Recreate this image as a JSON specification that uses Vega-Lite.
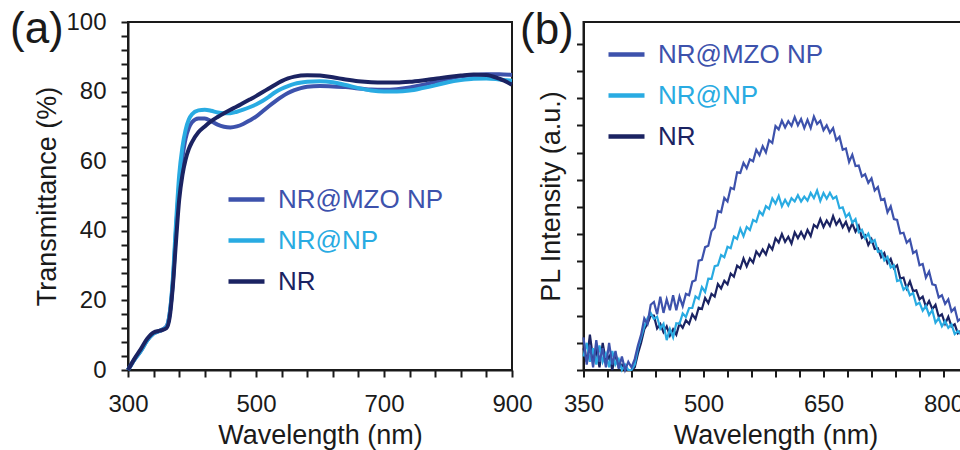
{
"$schema": "https://vega.github.io/schema/vega-lite/v6.json",
"background": "white",
"autosize": {"type": "none"},
"padding": {"left": 128, "top": 22, "right": 832, "bottom": 428},
"config": {
 "font": "Liberation Sans",
 "view": {"stroke": "#1a1a1a", "strokeWidth": 2},
 "axis": {"grid": false, "domainColor": "#1a1a1a", "domainWidth": 2, "tickColor": "#1a1a1a", "tickWidth": 2, "tickSize": 7, "labelFont": "Liberation Sans", "labelFontSize": 24, "labelColor": "#1a1a1a", "labelOverlap": false, "labelFlush": false, "titleFont": "Liberation Sans", "titleFontSize": 27, "titleFontWeight": "normal", "titleColor": "#1a1a1a"},
 "legend": {"symbolType": "stroke", "symbolSize": 1296, "symbolStrokeWidth": 4.5, "labelFont": "Liberation Sans", "labelFontSize": 26, "labelOffset": 11, "labelLimit": 0, "rowPadding": 7, "padding": 0},
 "title": {"font": "Liberation Sans", "fontSize": 44, "fontWeight": "normal", "color": "#1a1a1a", "anchor": "start", "frame": "group", "offset": 0, "baseline": "alphabetic"}
},
"datasets": {
 "trans": [
  {"w":300,"s":"NR@MZO NP","v":0},{"w":310,"s":"NR@MZO NP","v":3},{"w":320,"s":"NR@MZO NP","v":5.5},{"w":330,"s":"NR@MZO NP","v":8.5},{"w":340,"s":"NR@MZO NP","v":10.5},{"w":350,"s":"NR@MZO NP","v":11.3},{"w":360,"s":"NR@MZO NP","v":12.5},{"w":365,"s":"NR@MZO NP","v":16},{"w":370,"s":"NR@MZO NP","v":25},{"w":375,"s":"NR@MZO NP","v":40},{"w":380,"s":"NR@MZO NP","v":53},{"w":385,"s":"NR@MZO NP","v":61},{"w":390,"s":"NR@MZO NP","v":66.5},{"w":395,"s":"NR@MZO NP","v":69.5},{"w":400,"s":"NR@MZO NP","v":71.2},{"w":410,"s":"NR@MZO NP","v":72.3},{"w":420,"s":"NR@MZO NP","v":72.3},{"w":430,"s":"NR@MZO NP","v":71.5},{"w":440,"s":"NR@MZO NP","v":70.5},{"w":450,"s":"NR@MZO NP","v":69.9},{"w":460,"s":"NR@MZO NP","v":69.7},{"w":470,"s":"NR@MZO NP","v":70},{"w":480,"s":"NR@MZO NP","v":70.7},{"w":490,"s":"NR@MZO NP","v":71.7},{"w":500,"s":"NR@MZO NP","v":72.8},{"w":510,"s":"NR@MZO NP","v":74.3},{"w":520,"s":"NR@MZO NP","v":75.8},{"w":530,"s":"NR@MZO NP","v":77.2},{"w":540,"s":"NR@MZO NP","v":78.5},{"w":550,"s":"NR@MZO NP","v":79.6},{"w":560,"s":"NR@MZO NP","v":80.4},{"w":570,"s":"NR@MZO NP","v":81},{"w":580,"s":"NR@MZO NP","v":81.4},{"w":600,"s":"NR@MZO NP","v":81.6},{"w":620,"s":"NR@MZO NP","v":81.5},{"w":640,"s":"NR@MZO NP","v":81.3},{"w":660,"s":"NR@MZO NP","v":80.9},{"w":680,"s":"NR@MZO NP","v":80.6},{"w":700,"s":"NR@MZO NP","v":80.5},{"w":720,"s":"NR@MZO NP","v":80.7},{"w":740,"s":"NR@MZO NP","v":81.2},{"w":760,"s":"NR@MZO NP","v":81.9},{"w":780,"s":"NR@MZO NP","v":82.8},{"w":800,"s":"NR@MZO NP","v":83.7},{"w":820,"s":"NR@MZO NP","v":84.4},{"w":840,"s":"NR@MZO NP","v":84.8},{"w":860,"s":"NR@MZO NP","v":85},{"w":880,"s":"NR@MZO NP","v":85},{"w":900,"s":"NR@MZO NP","v":84.8},
  {"w":300,"s":"NR@NP","v":0},{"w":310,"s":"NR@NP","v":3},{"w":320,"s":"NR@NP","v":5.5},{"w":330,"s":"NR@NP","v":8.5},{"w":340,"s":"NR@NP","v":10.5},{"w":350,"s":"NR@NP","v":11.3},{"w":360,"s":"NR@NP","v":12.3},{"w":365,"s":"NR@NP","v":16},{"w":370,"s":"NR@NP","v":26},{"w":375,"s":"NR@NP","v":42},{"w":380,"s":"NR@NP","v":56},{"w":385,"s":"NR@NP","v":64},{"w":390,"s":"NR@NP","v":69},{"w":395,"s":"NR@NP","v":72},{"w":400,"s":"NR@NP","v":73.5},{"w":410,"s":"NR@NP","v":74.6},{"w":420,"s":"NR@NP","v":74.8},{"w":430,"s":"NR@NP","v":74.5},{"w":440,"s":"NR@NP","v":74},{"w":450,"s":"NR@NP","v":73.8},{"w":460,"s":"NR@NP","v":73.8},{"w":470,"s":"NR@NP","v":74.2},{"w":480,"s":"NR@NP","v":74.8},{"w":490,"s":"NR@NP","v":75.5},{"w":500,"s":"NR@NP","v":76.3},{"w":510,"s":"NR@NP","v":77.3},{"w":520,"s":"NR@NP","v":78.5},{"w":530,"s":"NR@NP","v":79.8},{"w":540,"s":"NR@NP","v":80.8},{"w":550,"s":"NR@NP","v":81.6},{"w":560,"s":"NR@NP","v":82.2},{"w":580,"s":"NR@NP","v":82.8},{"w":600,"s":"NR@NP","v":83},{"w":620,"s":"NR@NP","v":82.7},{"w":640,"s":"NR@NP","v":81.9},{"w":660,"s":"NR@NP","v":81},{"w":680,"s":"NR@NP","v":80.3},{"w":700,"s":"NR@NP","v":80},{"w":720,"s":"NR@NP","v":80},{"w":740,"s":"NR@NP","v":80.3},{"w":760,"s":"NR@NP","v":81},{"w":780,"s":"NR@NP","v":81.8},{"w":800,"s":"NR@NP","v":82.7},{"w":820,"s":"NR@NP","v":83.3},{"w":840,"s":"NR@NP","v":83.7},{"w":860,"s":"NR@NP","v":83.8},{"w":880,"s":"NR@NP","v":83.5},{"w":900,"s":"NR@NP","v":83.1},
  {"w":300,"s":"NR","v":0},{"w":310,"s":"NR","v":3.2},{"w":320,"s":"NR","v":6},{"w":330,"s":"NR","v":9},{"w":340,"s":"NR","v":10.8},{"w":350,"s":"NR","v":11.3},{"w":360,"s":"NR","v":12},{"w":365,"s":"NR","v":15},{"w":370,"s":"NR","v":24},{"w":375,"s":"NR","v":37},{"w":380,"s":"NR","v":49},{"w":385,"s":"NR","v":56},{"w":390,"s":"NR","v":60.5},{"w":395,"s":"NR","v":63.5},{"w":400,"s":"NR","v":65.5},{"w":410,"s":"NR","v":68.3},{"w":420,"s":"NR","v":70},{"w":430,"s":"NR","v":71.5},{"w":440,"s":"NR","v":72.7},{"w":450,"s":"NR","v":73.8},{"w":460,"s":"NR","v":74.8},{"w":470,"s":"NR","v":75.7},{"w":480,"s":"NR","v":76.7},{"w":490,"s":"NR","v":77.7},{"w":500,"s":"NR","v":78.7},{"w":510,"s":"NR","v":79.8},{"w":520,"s":"NR","v":80.9},{"w":530,"s":"NR","v":82},{"w":540,"s":"NR","v":83},{"w":550,"s":"NR","v":83.8},{"w":560,"s":"NR","v":84.3},{"w":580,"s":"NR","v":84.7},{"w":600,"s":"NR","v":84.6},{"w":620,"s":"NR","v":84.1},{"w":640,"s":"NR","v":83.5},{"w":660,"s":"NR","v":83},{"w":680,"s":"NR","v":82.7},{"w":700,"s":"NR","v":82.6},{"w":720,"s":"NR","v":82.6},{"w":740,"s":"NR","v":82.8},{"w":760,"s":"NR","v":83.2},{"w":780,"s":"NR","v":83.7},{"w":800,"s":"NR","v":84.2},{"w":820,"s":"NR","v":84.6},{"w":840,"s":"NR","v":84.9},{"w":860,"s":"NR","v":84.8},{"w":880,"s":"NR","v":83.7},{"w":900,"s":"NR","v":82}
 ],
 "pl": [
  {"w":350,"s":"NR","v":0.8},{"w":354,"s":"NR","v":0.3},{"w":358,"s":"NR","v":1.3},{"w":362,"s":"NR","v":0.4},{"w":366,"s":"NR","v":0.7},{"w":370,"s":"NR","v":0.1},{"w":374,"s":"NR","v":1.0},{"w":378,"s":"NR","v":0.3},{"w":382,"s":"NR","v":0.5},{"w":386,"s":"NR","v":0},{"w":390,"s":"NR","v":0.6},{"w":394,"s":"NR","v":0.1},{"w":398,"s":"NR","v":0.2},{"w":402,"s":"NR","v":0},{"w":406,"s":"NR","v":0},{"w":410,"s":"NR","v":0},{"w":414,"s":"NR","v":0.1},{"w":418,"s":"NR","v":0.6},{"w":422,"s":"NR","v":1.0},{"w":426,"s":"NR","v":1.5},{"w":430,"s":"NR","v":1.7},{"w":434,"s":"NR","v":2.0},{"w":438,"s":"NR","v":2.0},{"w":442,"s":"NR","v":1.53},{"w":446,"s":"NR","v":1.69},{"w":450,"s":"NR","v":1.39},{"w":454,"s":"NR","v":1.6},{"w":458,"s":"NR","v":1.26},{"w":462,"s":"NR","v":1.5},{"w":466,"s":"NR","v":1.3},{"w":470,"s":"NR","v":1.71},{"w":474,"s":"NR","v":1.55},{"w":478,"s":"NR","v":1.83},{"w":482,"s":"NR","v":1.7},{"w":486,"s":"NR","v":2.05},{"w":490,"s":"NR","v":1.88},{"w":494,"s":"NR","v":2.29},{"w":498,"s":"NR","v":2.24},{"w":502,"s":"NR","v":2.65},{"w":506,"s":"NR","v":2.46},{"w":510,"s":"NR","v":2.8},{"w":514,"s":"NR","v":2.7},{"w":518,"s":"NR","v":3.16},{"w":522,"s":"NR","v":3.0},{"w":526,"s":"NR","v":3.28},{"w":530,"s":"NR","v":3.15},{"w":534,"s":"NR","v":3.55},{"w":538,"s":"NR","v":3.43},{"w":542,"s":"NR","v":3.84},{"w":546,"s":"NR","v":3.74},{"w":550,"s":"NR","v":4.1},{"w":554,"s":"NR","v":3.81},{"w":558,"s":"NR","v":4.1},{"w":562,"s":"NR","v":3.95},{"w":566,"s":"NR","v":4.36},{"w":570,"s":"NR","v":4.2},{"w":574,"s":"NR","v":4.43},{"w":578,"s":"NR","v":4.25},{"w":582,"s":"NR","v":4.6},{"w":586,"s":"NR","v":4.43},{"w":590,"s":"NR","v":4.84},{"w":594,"s":"NR","v":4.69},{"w":598,"s":"NR","v":5.0},{"w":602,"s":"NR","v":4.71},{"w":606,"s":"NR","v":4.9},{"w":610,"s":"NR","v":4.65},{"w":614,"s":"NR","v":5.06},{"w":618,"s":"NR","v":4.85},{"w":622,"s":"NR","v":5.08},{"w":626,"s":"NR","v":4.85},{"w":630,"s":"NR","v":5.15},{"w":634,"s":"NR","v":4.93},{"w":638,"s":"NR","v":5.34},{"w":642,"s":"NR","v":5.24},{"w":646,"s":"NR","v":5.55},{"w":650,"s":"NR","v":5.26},{"w":654,"s":"NR","v":5.5},{"w":658,"s":"NR","v":5.3},{"w":662,"s":"NR","v":5.66},{"w":666,"s":"NR","v":5.35},{"w":670,"s":"NR","v":5.53},{"w":674,"s":"NR","v":5.25},{"w":678,"s":"NR","v":5.45},{"w":682,"s":"NR","v":5.13},{"w":686,"s":"NR","v":5.39},{"w":690,"s":"NR","v":5.09},{"w":694,"s":"NR","v":5.3},{"w":698,"s":"NR","v":4.86},{"w":702,"s":"NR","v":4.95},{"w":706,"s":"NR","v":4.6},{"w":710,"s":"NR","v":4.81},{"w":714,"s":"NR","v":4.45},{"w":718,"s":"NR","v":4.48},{"w":722,"s":"NR","v":4.15},{"w":726,"s":"NR","v":4.3},{"w":730,"s":"NR","v":3.93},{"w":734,"s":"NR","v":4.09},{"w":738,"s":"NR","v":3.74},{"w":742,"s":"NR","v":3.85},{"w":746,"s":"NR","v":3.36},{"w":750,"s":"NR","v":3.4},{"w":754,"s":"NR","v":3.0},{"w":758,"s":"NR","v":3.26},{"w":762,"s":"NR","v":2.9},{"w":766,"s":"NR","v":2.93},{"w":770,"s":"NR","v":2.6},{"w":774,"s":"NR","v":2.7},{"w":778,"s":"NR","v":2.33},{"w":782,"s":"NR","v":2.54},{"w":786,"s":"NR","v":2.24},{"w":790,"s":"NR","v":2.4},{"w":794,"s":"NR","v":1.96},{"w":798,"s":"NR","v":2.05},{"w":802,"s":"NR","v":1.7},{"w":806,"s":"NR","v":1.96},{"w":810,"s":"NR","v":1.6},{"w":814,"s":"NR","v":1.68},{"w":818,"s":"NR","v":1.35},{"w":822,"s":"NR","v":1.45},
  {"w":350,"s":"NR@NP","v":0.5},{"w":354,"s":"NR@NP","v":1.0},{"w":358,"s":"NR@NP","v":0.3},{"w":362,"s":"NR@NP","v":0.8},{"w":366,"s":"NR@NP","v":0.2},{"w":370,"s":"NR@NP","v":0.9},{"w":374,"s":"NR@NP","v":0.3},{"w":378,"s":"NR@NP","v":0.6},{"w":382,"s":"NR@NP","v":0.1},{"w":386,"s":"NR@NP","v":0.7},{"w":390,"s":"NR@NP","v":0.2},{"w":394,"s":"NR@NP","v":0.4},{"w":398,"s":"NR@NP","v":0},{"w":402,"s":"NR@NP","v":0.2},{"w":406,"s":"NR@NP","v":0},{"w":410,"s":"NR@NP","v":0},{"w":414,"s":"NR@NP","v":0.2},{"w":418,"s":"NR@NP","v":0.8},{"w":422,"s":"NR@NP","v":1.2},{"w":426,"s":"NR@NP","v":1.6},{"w":430,"s":"NR@NP","v":1.9},{"w":434,"s":"NR@NP","v":2.1},{"w":438,"s":"NR@NP","v":1.88},{"w":442,"s":"NR@NP","v":1.96},{"w":446,"s":"NR@NP","v":1.52},{"w":450,"s":"NR@NP","v":1.7},{"w":454,"s":"NR@NP","v":1.1},{"w":458,"s":"NR@NP","v":1.51},{"w":462,"s":"NR@NP","v":1.2},{"w":466,"s":"NR@NP","v":1.72},{"w":470,"s":"NR@NP","v":1.7},{"w":474,"s":"NR@NP","v":2.08},{"w":478,"s":"NR@NP","v":1.95},{"w":482,"s":"NR@NP","v":2.28},{"w":486,"s":"NR@NP","v":2.28},{"w":490,"s":"NR@NP","v":2.71},{"w":494,"s":"NR@NP","v":2.62},{"w":498,"s":"NR@NP","v":3.05},{"w":502,"s":"NR@NP","v":2.87},{"w":506,"s":"NR@NP","v":3.36},{"w":510,"s":"NR@NP","v":3.35},{"w":514,"s":"NR@NP","v":3.82},{"w":518,"s":"NR@NP","v":3.85},{"w":522,"s":"NR@NP","v":4.23},{"w":526,"s":"NR@NP","v":4.15},{"w":530,"s":"NR@NP","v":4.53},{"w":534,"s":"NR@NP","v":4.48},{"w":538,"s":"NR@NP","v":4.91},{"w":542,"s":"NR@NP","v":4.82},{"w":546,"s":"NR@NP","v":5.2},{"w":550,"s":"NR@NP","v":4.92},{"w":554,"s":"NR@NP","v":5.26},{"w":558,"s":"NR@NP","v":5.15},{"w":562,"s":"NR@NP","v":5.52},{"w":566,"s":"NR@NP","v":5.45},{"w":570,"s":"NR@NP","v":5.83},{"w":574,"s":"NR@NP","v":5.7},{"w":578,"s":"NR@NP","v":6.03},{"w":582,"s":"NR@NP","v":5.93},{"w":586,"s":"NR@NP","v":6.31},{"w":590,"s":"NR@NP","v":6.12},{"w":594,"s":"NR@NP","v":6.4},{"w":598,"s":"NR@NP","v":6.02},{"w":602,"s":"NR@NP","v":6.26},{"w":606,"s":"NR@NP","v":6.05},{"w":610,"s":"NR@NP","v":6.32},{"w":614,"s":"NR@NP","v":6.2},{"w":618,"s":"NR@NP","v":6.43},{"w":622,"s":"NR@NP","v":6.2},{"w":626,"s":"NR@NP","v":6.38},{"w":630,"s":"NR@NP","v":6.23},{"w":634,"s":"NR@NP","v":6.51},{"w":638,"s":"NR@NP","v":6.32},{"w":642,"s":"NR@NP","v":6.6},{"w":646,"s":"NR@NP","v":6.22},{"w":650,"s":"NR@NP","v":6.51},{"w":654,"s":"NR@NP","v":6.3},{"w":658,"s":"NR@NP","v":6.52},{"w":662,"s":"NR@NP","v":6.3},{"w":666,"s":"NR@NP","v":6.38},{"w":670,"s":"NR@NP","v":5.95},{"w":674,"s":"NR@NP","v":5.98},{"w":678,"s":"NR@NP","v":5.63},{"w":682,"s":"NR@NP","v":5.76},{"w":686,"s":"NR@NP","v":5.42},{"w":690,"s":"NR@NP","v":5.55},{"w":694,"s":"NR@NP","v":5.07},{"w":698,"s":"NR@NP","v":5.16},{"w":702,"s":"NR@NP","v":4.85},{"w":706,"s":"NR@NP","v":5.02},{"w":710,"s":"NR@NP","v":4.7},{"w":714,"s":"NR@NP","v":4.78},{"w":718,"s":"NR@NP","v":4.35},{"w":722,"s":"NR@NP","v":4.38},{"w":726,"s":"NR@NP","v":4.03},{"w":730,"s":"NR@NP","v":4.16},{"w":734,"s":"NR@NP","v":3.77},{"w":738,"s":"NR@NP","v":3.85},{"w":742,"s":"NR@NP","v":3.27},{"w":746,"s":"NR@NP","v":3.31},{"w":750,"s":"NR@NP","v":2.95},{"w":754,"s":"NR@NP","v":3.07},{"w":758,"s":"NR@NP","v":2.75},{"w":762,"s":"NR@NP","v":2.83},{"w":766,"s":"NR@NP","v":2.4},{"w":770,"s":"NR@NP","v":2.48},{"w":774,"s":"NR@NP","v":2.18},{"w":778,"s":"NR@NP","v":2.36},{"w":782,"s":"NR@NP","v":2.02},{"w":786,"s":"NR@NP","v":2.2},{"w":790,"s":"NR@NP","v":1.74},{"w":794,"s":"NR@NP","v":1.9},{"w":798,"s":"NR@NP","v":1.61},{"w":802,"s":"NR@NP","v":1.8},{"w":806,"s":"NR@NP","v":1.55},{"w":810,"s":"NR@NP","v":1.68},{"w":814,"s":"NR@NP","v":1.32},{"w":818,"s":"NR@NP","v":1.43},{"w":822,"s":"NR@NP","v":1.3},
  {"w":350,"s":"NR@MZO NP","v":1.2},{"w":354,"s":"NR@MZO NP","v":0.2},{"w":358,"s":"NR@MZO NP","v":0.9},{"w":362,"s":"NR@MZO NP","v":0.1},{"w":366,"s":"NR@MZO NP","v":1.1},{"w":370,"s":"NR@MZO NP","v":0.3},{"w":374,"s":"NR@MZO NP","v":0.8},{"w":378,"s":"NR@MZO NP","v":0.1},{"w":382,"s":"NR@MZO NP","v":1.0},{"w":386,"s":"NR@MZO NP","v":0.2},{"w":390,"s":"NR@MZO NP","v":0.7},{"w":394,"s":"NR@MZO NP","v":0.05},{"w":398,"s":"NR@MZO NP","v":0.5},{"w":402,"s":"NR@MZO NP","v":0},{"w":406,"s":"NR@MZO NP","v":0.3},{"w":410,"s":"NR@MZO NP","v":0.1},{"w":414,"s":"NR@MZO NP","v":0.4},{"w":418,"s":"NR@MZO NP","v":0.9},{"w":422,"s":"NR@MZO NP","v":1.3},{"w":426,"s":"NR@MZO NP","v":1.9},{"w":430,"s":"NR@MZO NP","v":1.7},{"w":434,"s":"NR@MZO NP","v":2.4},{"w":438,"s":"NR@MZO NP","v":2.5},{"w":442,"s":"NR@MZO NP","v":2.05},{"w":446,"s":"NR@MZO NP","v":2.7},{"w":450,"s":"NR@MZO NP","v":2.1},{"w":454,"s":"NR@MZO NP","v":2.6},{"w":458,"s":"NR@MZO NP","v":2.2},{"w":462,"s":"NR@MZO NP","v":2.75},{"w":466,"s":"NR@MZO NP","v":2.2},{"w":470,"s":"NR@MZO NP","v":2.7},{"w":474,"s":"NR@MZO NP","v":2.35},{"w":478,"s":"NR@MZO NP","v":2.8},{"w":482,"s":"NR@MZO NP","v":2.75},{"w":486,"s":"NR@MZO NP","v":3.25},{"w":490,"s":"NR@MZO NP","v":3.3},{"w":494,"s":"NR@MZO NP","v":4.02},{"w":498,"s":"NR@MZO NP","v":4.05},{"w":502,"s":"NR@MZO NP","v":4.52},{"w":506,"s":"NR@MZO NP","v":4.57},{"w":510,"s":"NR@MZO NP","v":5.1},{"w":514,"s":"NR@MZO NP","v":5.23},{"w":518,"s":"NR@MZO NP","v":5.85},{"w":522,"s":"NR@MZO NP","v":5.8},{"w":526,"s":"NR@MZO NP","v":6.33},{"w":530,"s":"NR@MZO NP","v":6.2},{"w":534,"s":"NR@MZO NP","v":6.7},{"w":538,"s":"NR@MZO NP","v":6.65},{"w":542,"s":"NR@MZO NP","v":7.27},{"w":546,"s":"NR@MZO NP","v":7.25},{"w":550,"s":"NR@MZO NP","v":7.62},{"w":554,"s":"NR@MZO NP","v":7.42},{"w":558,"s":"NR@MZO NP","v":7.75},{"w":562,"s":"NR@MZO NP","v":7.68},{"w":566,"s":"NR@MZO NP","v":8.1},{"w":570,"s":"NR@MZO NP","v":7.9},{"w":574,"s":"NR@MZO NP","v":8.23},{"w":578,"s":"NR@MZO NP","v":8.0},{"w":582,"s":"NR@MZO NP","v":8.45},{"w":586,"s":"NR@MZO NP","v":8.35},{"w":590,"s":"NR@MZO NP","v":8.97},{"w":594,"s":"NR@MZO NP","v":8.85},{"w":598,"s":"NR@MZO NP","v":9.17},{"w":602,"s":"NR@MZO NP","v":8.92},{"w":606,"s":"NR@MZO NP","v":9.15},{"w":610,"s":"NR@MZO NP","v":8.98},{"w":614,"s":"NR@MZO NP","v":9.3},{"w":618,"s":"NR@MZO NP","v":9.0},{"w":622,"s":"NR@MZO NP","v":9.23},{"w":626,"s":"NR@MZO NP","v":8.9},{"w":630,"s":"NR@MZO NP","v":9.2},{"w":634,"s":"NR@MZO NP","v":8.9},{"w":638,"s":"NR@MZO NP","v":9.32},{"w":642,"s":"NR@MZO NP","v":9.05},{"w":646,"s":"NR@MZO NP","v":9.17},{"w":650,"s":"NR@MZO NP","v":8.82},{"w":654,"s":"NR@MZO NP","v":9.0},{"w":658,"s":"NR@MZO NP","v":8.73},{"w":662,"s":"NR@MZO NP","v":8.9},{"w":666,"s":"NR@MZO NP","v":8.45},{"w":670,"s":"NR@MZO NP","v":8.58},{"w":674,"s":"NR@MZO NP","v":8.1},{"w":678,"s":"NR@MZO NP","v":8.15},{"w":682,"s":"NR@MZO NP","v":7.65},{"w":686,"s":"NR@MZO NP","v":7.92},{"w":690,"s":"NR@MZO NP","v":7.5},{"w":694,"s":"NR@MZO NP","v":7.52},{"w":698,"s":"NR@MZO NP","v":7.12},{"w":702,"s":"NR@MZO NP","v":7.2},{"w":706,"s":"NR@MZO NP","v":6.88},{"w":710,"s":"NR@MZO NP","v":7.05},{"w":714,"s":"NR@MZO NP","v":6.6},{"w":718,"s":"NR@MZO NP","v":6.73},{"w":722,"s":"NR@MZO NP","v":6.25},{"w":726,"s":"NR@MZO NP","v":6.3},{"w":730,"s":"NR@MZO NP","v":5.8},{"w":734,"s":"NR@MZO NP","v":6.02},{"w":738,"s":"NR@MZO NP","v":5.55},{"w":742,"s":"NR@MZO NP","v":5.52},{"w":746,"s":"NR@MZO NP","v":5.02},{"w":750,"s":"NR@MZO NP","v":5.05},{"w":754,"s":"NR@MZO NP","v":4.68},{"w":758,"s":"NR@MZO NP","v":4.8},{"w":762,"s":"NR@MZO NP","v":4.3},{"w":766,"s":"NR@MZO NP","v":4.38},{"w":770,"s":"NR@MZO NP","v":3.85},{"w":774,"s":"NR@MZO NP","v":3.9},{"w":778,"s":"NR@MZO NP","v":3.4},{"w":782,"s":"NR@MZO NP","v":3.62},{"w":786,"s":"NR@MZO NP","v":3.15},{"w":790,"s":"NR@MZO NP","v":3.12},{"w":794,"s":"NR@MZO NP","v":2.67},{"w":798,"s":"NR@MZO NP","v":2.75},{"w":802,"s":"NR@MZO NP","v":2.43},{"w":806,"s":"NR@MZO NP","v":2.6},{"w":810,"s":"NR@MZO NP","v":2.15},{"w":814,"s":"NR@MZO NP","v":2.28},{"w":818,"s":"NR@MZO NP","v":1.8},{"w":822,"s":"NR@MZO NP","v":1.9}
 ]
},
"bounds": "flush",
"spacing": 71.5,
"resolve": {"scale": {"color": "independent", "x": "independent", "y": "independent"}, "legend": {"color": "independent"}},
"hconcat": [
 {
  "width": 384, "height": 348,
  "title": {"text": "(a)", "dx": -118, "dy": 46},
  "data": {"name": "trans"},
  "mark": {"type": "line", "strokeWidth": 4, "interpolate": "monotone"},
  "encoding": {
   "x": {"field": "w", "type": "quantitative", "scale": {"domain": [300, 900], "nice": false, "zero": false},
         "axis": {"title": "Wavelength (nm)", "values": [300,340,380,420,460,500,540,580,620,660,700,740,780,820,860,900], "labelExpr": "datum.value % 200 === 100 ? datum.label : ''", "labelPadding": 15, "titleX": 192, "titleY": 73, "titleBaseline": "alphabetic"}},
   "y": {"field": "v", "type": "quantitative", "scale": {"domain": [0, 100], "nice": false},
         "axis": {"title": "Transmittance (%)", "values": [0,4,8,12,16,20,24,28,32,36,40,44,48,52,56,60,64,68,72,76,80,84,88,92,96,100], "labelExpr": "datum.value % 20 === 0 ? datum.label : ''", "labelPadding": 15, "titleX": -73, "titleY": 174, "titleBaseline": "alphabetic"}},
   "color": {"field": "s", "type": "nominal", "scale": {"domain": ["NR@MZO NP", "NR@NP", "NR"], "range": ["#3D52AC", "#29ABE2", "#1B2362"]},
         "legend": {"title": null, "orient": "none", "legendX": 98, "legendY": 157, "encode": {"labels": {"update": {"fill": {"signal": "datum.value === 'NR@MZO NP' ? '#3D52AC' : datum.value === 'NR@NP' ? '#29ABE2' : '#1B2362'"}}}}}}
  }
 },
 {
  "width": 380, "height": 348,
  "title": {"text": "(b)", "dx": -63.5, "dy": 35},
  "data": {"name": "pl"},
  "mark": {"type": "line", "strokeWidth": 2.2},
  "encoding": {
   "x": {"field": "w", "type": "quantitative", "scale": {"domain": [350, 825], "nice": false, "zero": false},
         "axis": {"title": "Wavelength (nm)", "values": [350,380,410,440,470,500,530,560,590,620,650,680,710,740,770,800], "labelExpr": "(datum.value - 350) % 150 === 0 ? datum.label : ''", "labelPadding": 15, "titleX": 192, "titleY": 73, "titleBaseline": "alphabetic"}},
   "y": {"field": "v", "type": "quantitative", "scale": {"domain": [0, 12.8], "nice": false},
         "axis": {"title": "PL Intensity (a.u.)", "values": [0,1,2,3,4,5,6,7,8,9,10,11,12], "labels": false, "titleX": -24, "titleY": 174, "titleBaseline": "alphabetic"}},
   "color": {"field": "s", "type": "nominal", "scale": {"domain": ["NR@MZO NP", "NR@NP", "NR"], "range": ["#3D52AC", "#29ABE2", "#1B2362"]},
         "legend": {"title": null, "orient": "none", "legendX": 22.5, "legendY": 12, "encode": {"labels": {"update": {"fill": {"signal": "datum.value === 'NR@MZO NP' ? '#3D52AC' : datum.value === 'NR@NP' ? '#29ABE2' : '#1B2362'"}}}}}}
  }
 }
]
}
